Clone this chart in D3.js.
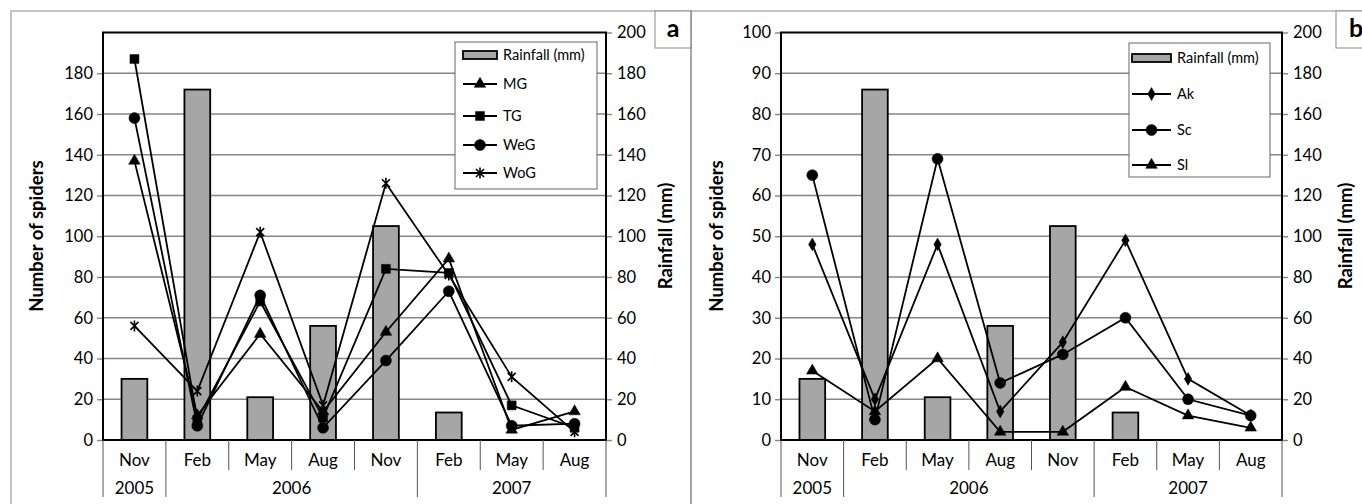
<!DOCTYPE html>
<html>
<head>
<meta charset="utf-8">
<script src="https://cdn.jsdelivr.net/npm/d3@7"></script>
<style>
  html, body { margin: 0; padding: 0; background: #fff; }
  svg { display: block; font-family: Lato, "Liberation Sans", sans-serif; }
</style>
</head>
<body>
<svg id="chart" width="1362" height="504"></svg>
<script>
// ---------- DATA ----------
const months = ["Nov", "Feb", "May", "Aug", "Nov", "Feb", "May", "Aug"];
const yearLabels = ["2005", "2006", "2007"];
const yearSpans = [1, 4, 3];
const rainfall = [30, 172, 21, 56, 105, 13.5, 0, 0];

// panel a series
const seriesA = ["MG", "TG", "WeG", "WoG"];
const MG  = [137, 12, 52, 14, 53, 89, 5, 14];
const TG  = [187, 10, 68, 11, 84, 82, 17, 6];
const WeG = [158, 7, 71, 6, 39, 73, 7, 8];
const WoG = [56, 24, 102, 17, 126, 81, 31, 4];

// panel b series
const seriesB = ["Ak", "Sc", "Sl"];
const Ak = [48, 10, 48, 7, 24, 49, 15, 6];
const Sc = [65, 5, 69, 14, 21, 30, 10, 6];
const Sl = [17, 7, 20, 2, 2, 13, 6, 3];

const leftTicksA = [0, 20, 40, 60, 80, 100, 120, 140, 160, 180];
const leftTicksB = [0, 10, 20, 30, 40, 50, 60, 70, 80, 90, 100];
const rightTicks = [0, 20, 40, 60, 80, 100, 120, 140, 160, 180, 200];

// ---------- DRAW ----------
const svg = d3.select("#chart");

function markerPath(type) {
  if (type === "triangle") return d3.symbol().type(d3.symbolTriangle).size(58)();
  if (type === "square") return d3.symbol().type(d3.symbolSquare).size(80)();
  if (type === "circle") return d3.symbol().type(d3.symbolCircle).size(95)();
  if (type === "diamond") return d3.symbol().type(d3.symbolDiamond).size(48)();
  if (type === "star") {
    const p = d3.path();
    p.moveTo(-4, -4); p.lineTo(4, 4);
    p.moveTo(4, -4); p.lineTo(-4, 4);
    p.moveTo(0, -5.5); p.lineTo(0, 5.5);
    return p.toString();
  }
}

function drawPanel(cfg) {
  const g = svg.append("g");
  // outer frame
  g.append("rect").attr("x", cfg.frameX).attr("y", 11).attr("width", cfg.frameW).attr("height", 520)
    .attr("fill", "none").attr("stroke", "#8a8a8a").attr("stroke-width", 1);
  g.append("rect").attr("x", cfg.tagX).attr("y", 11).attr("width", cfg.tagW).attr("height", 37)
    .attr("fill", "#fff").attr("stroke", "#8a8a8a").attr("stroke-width", 1);
  g.append("text").attr("x", cfg.tagX + cfg.tagW / 2).attr("y", 37).attr("text-anchor", "middle")
    .attr("font-size", 25).attr("font-weight", "bold").text(cfg.tag);

  const L = cfg.left, R = cfg.right, T = 32.5, B = 440;
  const x = d3.scaleBand().domain(d3.range(months.length)).range([L, R]).paddingInner(0).paddingOuter(0);
  const yL = d3.scaleLinear().domain([0, cfg.leftMax]).range([B, T]);
  const yR = d3.scaleLinear().domain([0, 200]).range([B, T]);
  const bw = x.bandwidth();

  // gridlines (right axis ticks)
  g.append("g").selectAll("line").data(rightTicks.filter(d => d > 0 && d < 200)).join("line")
    .attr("x1", L).attr("x2", R).attr("y1", d => yR(d)).attr("y2", d => yR(d))
    .attr("stroke", "#858585").attr("stroke-width", 1.4);

  // bars
  g.append("g").selectAll("rect").data(rainfall.map((v, i) => ({ v, i })).filter(d => d.v > 0)).join("rect")
    .attr("x", d => x(d.i) + bw * 0.295).attr("width", bw * 0.41)
    .attr("y", d => yR(d.v)).attr("height", d => B - yR(d.v))
    .attr("fill", "#a6a6a6").attr("stroke", "#000").attr("stroke-width", 1.8);

  // left axis
  const axL = d3.axisLeft(yL).tickValues(cfg.leftTicks).tickSize(6).tickPadding(4);
  const gl = g.append("g").attr("transform", `translate(${L},0)`).call(axL);
  gl.select(".domain").remove();
  gl.selectAll(".tick line").attr("stroke", "#858585").attr("stroke-width", 1.4);
  gl.selectAll(".tick text").attr("font-size", 16.5).attr("font-family", "Lato").attr("fill", "#000");

  // right axis
  const axR = d3.axisRight(yR).tickValues(rightTicks).tickSize(6).tickPadding(5);
  const gr = g.append("g").attr("transform", `translate(${R},0)`).call(axR);
  gr.select(".domain").remove();
  gr.selectAll(".tick line").attr("stroke", "#858585").attr("stroke-width", 1.4);
  gr.selectAll(".tick text").attr("font-size", 16.5).attr("font-family", "Lato").attr("fill", "#000");

  // plot border
  g.append("rect").attr("x", L).attr("y", T).attr("width", R - L).attr("height", B - T)
    .attr("fill", "none").attr("stroke", "#000").attr("stroke-width", 2);

  // category axis
  const cat = g.append("g");
  const yearStarts = [0];
  yearSpans.forEach((s, k) => yearStarts.push(yearStarts[k] + s));
  d3.range(months.length + 1).forEach(i => {
    const xx = i < months.length ? x(i) : x(months.length - 1) + bw;
    const isYear = yearStarts.includes(i);
    cat.append("line").attr("x1", xx).attr("x2", xx).attr("y1", B).attr("y2", isYear ? 497 : 470)
      .attr("stroke", "#555").attr("stroke-width", 1);
  });
  cat.selectAll("text.m").data(months).join("text").attr("class", "m")
    .attr("x", (d, i) => x(i) + bw / 2).attr("y", 466).attr("text-anchor", "middle")
    .attr("font-size", 17).text(d => d);
  cat.selectAll("text.y").data(yearLabels).join("text").attr("class", "y")
    .attr("x", (d, k) => (x(yearStarts[k]) + (yearStarts[k + 1] < months.length ? x(yearStarts[k + 1]) : R)) / 2)
    .attr("y", 494).attr("text-anchor", "middle").attr("font-size", 17).text(d => d);

  // lines and markers
  const line = d3.line().x((d, i) => x(i) + bw / 2).y(d => yL(d));
  cfg.series.forEach(s => {
    g.append("path").datum(s.values).attr("d", line).attr("fill", "none")
      .attr("stroke", "#000").attr("stroke-width", 1.8);
  });
  cfg.series.forEach(s => {
    g.append("g").selectAll("path").data(s.values).join("path")
      .attr("transform", (d, i) => `translate(${x(i) + bw / 2},${yL(d)})`)
      .attr("d", markerPath(s.marker))
      .attr("fill", "#000").attr("stroke", "#000").attr("stroke-width", s.marker === "star" ? 1.6 : 0.5);
  });

  // axis titles
  g.append("text").attr("transform", `translate(${cfg.titleLX},236) rotate(-90)`).attr("text-anchor", "middle")
    .attr("dy", "0.35em").attr("font-size", 18.5).attr("font-weight", "bold").text("Number of spiders");
  g.append("text").attr("transform", `translate(${cfg.titleRX},236) rotate(-90)`).attr("text-anchor", "middle")
    .attr("dy", "0.35em").attr("font-size", 18.5).attr("font-weight", "bold").text("Rainfall (mm)");

  // legend
  const lg = cfg.legend;
  const leg = g.append("g");
  leg.append("rect").attr("x", lg.x).attr("y", lg.y).attr("width", lg.w).attr("height", lg.h)
    .attr("fill", "#fff").attr("stroke", "#666").attr("stroke-width", 1);
  leg.append("rect").attr("x", lg.sx).attr("y", lg.rows[0] - 4).attr("width", lg.sw).attr("height", 8)
    .attr("fill", "#a6a6a6").attr("stroke", "#000").attr("stroke-width", 1.8);
  leg.append("text").attr("x", lg.sx + lg.sw + 6).attr("y", lg.rows[0]).attr("dy", "0.35em")
    .attr("font-size", 14.5).text("Rainfall (mm)");
  cfg.series.forEach((s, k) => {
    const yy = lg.rows[k + 1];
    leg.append("line").attr("x1", lg.sx).attr("x2", lg.sx + lg.sw).attr("y1", yy).attr("y2", yy)
      .attr("stroke", "#000").attr("stroke-width", 1.8);
    leg.append("path").attr("transform", `translate(${lg.sx + lg.sw / 2},${yy})`).attr("d", markerPath(s.marker))
      .attr("fill", "#000").attr("stroke", "#000").attr("stroke-width", s.marker === "star" ? 1.6 : 0.5);
    leg.append("text").attr("x", lg.sx + lg.sw + 6).attr("y", yy).attr("dy", "0.35em")
      .attr("font-size", 14.5).text(s.name);
  });
}

drawPanel({
  tag: "a", frameX: 11, frameW: 680, tagX: 655, tagW: 36,
  left: 103, right: 606, leftMax: 200, leftTicks: leftTicksA,
  titleLX: 37, titleRX: 666,
  series: [
    { name: seriesA[0], values: MG, marker: "triangle" },
    { name: seriesA[1], values: TG, marker: "square" },
    { name: seriesA[2], values: WeG, marker: "circle" },
    { name: seriesA[3], values: WoG, marker: "star" }
  ],
  legend: { x: 455, y: 42, w: 142, h: 147, sx: 463, sw: 34, rows: [55, 84, 116, 145, 173] }
});

drawPanel({
  tag: "b", frameX: 691, frameW: 700, tagX: 1336, tagW: 40,
  left: 781, right: 1282, leftMax: 100, leftTicks: leftTicksB,
  titleLX: 717, titleRX: 1346,
  series: [
    { name: seriesB[0], values: Ak, marker: "diamond" },
    { name: seriesB[1], values: Sc, marker: "circle" },
    { name: seriesB[2], values: Sl, marker: "triangle" }
  ],
  legend: { x: 1129, y: 43, w: 141, h: 134, sx: 1132, sw: 39, rows: [58, 94, 130, 165] }
});
</script>
</body>
</html>
